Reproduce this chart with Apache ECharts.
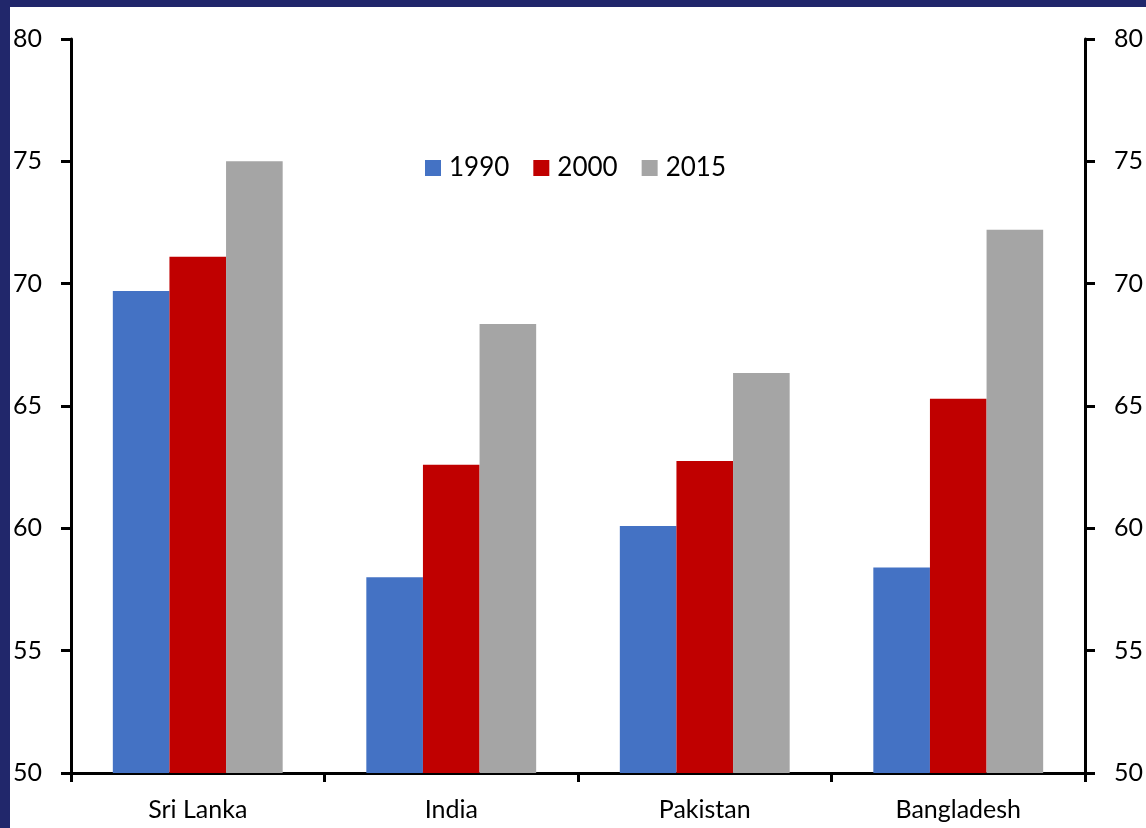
<!DOCTYPE html>
<html>
<head>
<meta charset="utf-8">
<script src="https://cdn.jsdelivr.net/npm/echarts@6/dist/echarts.min.js"></script>
<style>
  html, body { margin: 0; padding: 0; background: #21276b; width: 1146px; height: 828px; overflow: hidden; }
  #main-chart { position: absolute; left: 10px; top: 7px; width: 1136px; height: 821px; background: #fff; }
</style>
</head>
<body>
<div id="main-chart"></div>
<script>
var countries = ['Sri Lanka', 'India', 'Pakistan', 'Bangladesh'];
var years = ['1990', '2000', '2015'];
var v1990 = [69.7, 58.0, 60.1, 58.4];
var v2000 = [71.1, 62.6, 62.75, 65.3];
var v2015 = [75.0, 68.35, 66.35, 72.2];
var colors = ['#4472c4', '#c00000', '#a5a5a5'];

var dom = document.getElementById('main-chart');
var myChart = echarts.init(dom);
var fontFam = 'Lato, "Open Sans", sans-serif';

function yAxisCfg(pos) {
    return {
        type: 'value',
        position: pos,
        min: 50,
        max: 80,
        interval: 5,
        splitLine: {show: false},
        axisLine: {show: true, lineStyle: {color: '#000', width: 3}},
        axisTick: {show: true, length: 10, lineStyle: {color: '#000', width: 3}},
        axisLabel: {color: '#000', fontSize: 25, fontFamily: fontFam, margin: 29}
    };
}

var option = {
    animation: false,
    grid: {left: 61, right: 61, top: 32, bottom: 55, containLabel: false},
    legend: {
        data: years,
        left: 410,
        top: 143,
        itemWidth: 16,
        itemHeight: 16,
        itemGap: 24,
        icon: 'rect',
        textStyle: {color: '#000', fontSize: 26, fontFamily: fontFam, padding: [0, 0, 0, 3]}
    },
    xAxis: {
        type: 'category',
        data: countries,
        axisLine: {lineStyle: {color: '#000', width: 3}},
        axisTick: {show: true, length: 9, lineStyle: {color: '#000', width: 3}},
        axisLabel: {color: '#000', fontSize: 25, fontFamily: fontFam, margin: 24}
    },
    yAxis: [yAxisCfg('left'), yAxisCfg('right')],
    series: [
        {name: years[0], type: 'bar', data: v1990, itemStyle: {color: colors[0]}, barGap: '0%', barCategoryGap: '33%'},
        {name: years[1], type: 'bar', data: v2000, itemStyle: {color: colors[1]}, barGap: '0%', barCategoryGap: '33%'},
        {name: years[2], type: 'bar', data: v2015, itemStyle: {color: colors[2]}, barGap: '0%', barCategoryGap: '33%'}
    ]
};
myChart.setOption(option, true);
</script>
</body>
</html>
